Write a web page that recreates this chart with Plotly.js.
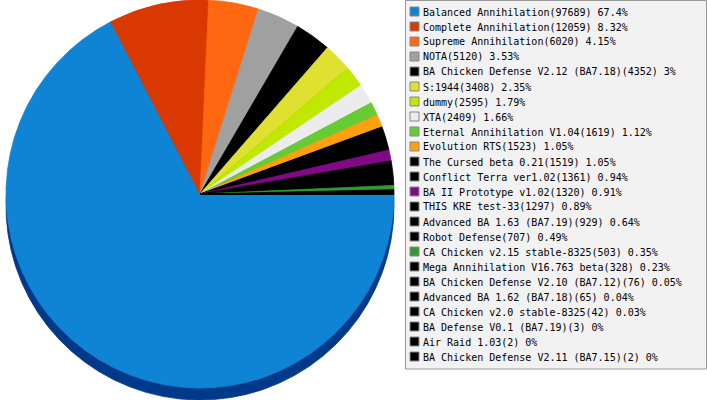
<!DOCTYPE html>
<html>
<head>
<meta charset="utf-8">
<script src="https://cdn.plot.ly/plotly-3.0.1.min.js"></script>
<style>html,body{margin:0;padding:0;background:#fff;}#chart{width:707px;height:400px;}</style>
</head>
<body>
<div id="chart"></div>
<script>
// ---- data ----
const LABELS = [
  "Balanced Annihilation", "Complete Annihilation", "Supreme Annihilation", "NOTA",
  "BA Chicken Defense V2.12 (BA7.18)", "S:1944", "dummy", "XTA",
  "Eternal Annihilation V1.04", "Evolution RTS", "The Cursed beta 0.21", "Conflict Terra ver1.02",
  "BA II Prototype v1.02", "THIS KRE test-33", "Advanced BA 1.63 (BA7.19)", "Robot Defense",
  "CA Chicken v2.15 stable-8325", "Mega Annihilation V16.763 beta", "BA Chicken Defense V2.10 (BA7.12)", "Advanced BA 1.62 (BA7.18)",
  "CA Chicken v2.0 stable-8325", "BA Defense V0.1 (BA7.19)", "Air Raid 1.03", "BA Chicken Defense V2.11 (BA7.15)"
];
const VALUES = [97689, 12059, 6020, 5120, 4352, 3408, 2595, 2409, 1619, 1523, 1519, 1361,
                1320, 1297, 929, 707, 503, 328, 76, 65, 42, 3, 2, 2];
const PERCENTS = ["67.4%", "8.32%", "4.15%", "3.53%", "3%", "2.35%", "1.79%", "1.66%",
                  "1.12%", "1.05%", "1.05%", "0.94%", "0.91%", "0.89%", "0.64%", "0.49%",
                  "0.35%", "0.23%", "0.05%", "0.04%", "0.03%", "0%", "0%", "0%"];

// ---- styles ----
const COLORS = ["#1084d4", "#d93800", "#ff6711", "#a0a0a0", "#000000", "#e0e030", "#c0e800", "#ececec",
                "#66cc33", "#ffa010", "#000000", "#000000", "#800a84", "#000000", "#000000", "#000000",
                "#339933", "#000000", "#000000", "#000000", "#000000", "#000000", "#000000", "#000000"];
const SHADOW = "#00388a";

const W = 707, H = 400;
const px = x => x / W;
const py = y => 1 - y / H;

const R = 194, CX = 200, CY = 194, DEPTH = 12;

const shadow = {
  type: "pie", labels: LABELS, values: VALUES, sort: false, direction: "clockwise", rotation: 90,
  textinfo: "none", hoverinfo: "skip", showlegend: false,
  marker: {colors: LABELS.map(() => SHADOW), line: {width: 0.8, color: LABELS.map(() => SHADOW)}},
  domain: {x: [px(CX - R), px(CX + R)], y: [py(CY + DEPTH + R), py(CY + DEPTH - R)]}
};
const main = {
  type: "pie", labels: LABELS, values: VALUES, sort: false, direction: "clockwise", rotation: 90,
  textinfo: "none", hoverinfo: "label+value+percent", showlegend: false,
  marker: {colors: COLORS, line: {width: 0.8, color: COLORS}},
  domain: {x: [px(CX - R), px(CX + R)], y: [py(CY + R), py(CY - R)]}
};

// ---- custom legend (compact rows like the reference) ----
const shapes = [{
  type: "rect", xref: "paper", yref: "paper",
  x0: px(405.5), x1: px(706.5), y0: py(369), y1: py(0.5),
  fillcolor: "#f2f2f2", line: {color: "#999999", width: 1}
}];
const annotations = [];
const ROW0 = 11.5, PITCH = 15;
LABELS.forEach((lab, i) => {
  const cy = ROW0 + i * PITCH;
  shapes.push({
    type: "rect", xref: "paper", yref: "paper",
    x0: px(410), x1: px(419), y0: py(cy + 4.5), y1: py(cy - 4.5),
    fillcolor: COLORS[i], line: {color: "#888888", width: 1}
  });
  annotations.push({
    xref: "paper", yref: "paper", x: px(421), y: py(cy + 0.5),
    xanchor: "left", yanchor: "middle", showarrow: false,
    text: lab + "(" + VALUES[i] + ") " + PERCENTS[i],
    font: {family: "DejaVu Sans Mono", size: 10, color: "#000000"}
  });
});

const layout = {
  width: W, height: H,
  margin: {l: 0, r: 0, t: 0, b: 0},
  paper_bgcolor: "#ffffff",
  showlegend: false,
  shapes: shapes,
  annotations: annotations
};

Plotly.newPlot("chart", [shadow, main], layout, {displayModeBar: false, staticPlot: true});
</script>
</body>
</html>
